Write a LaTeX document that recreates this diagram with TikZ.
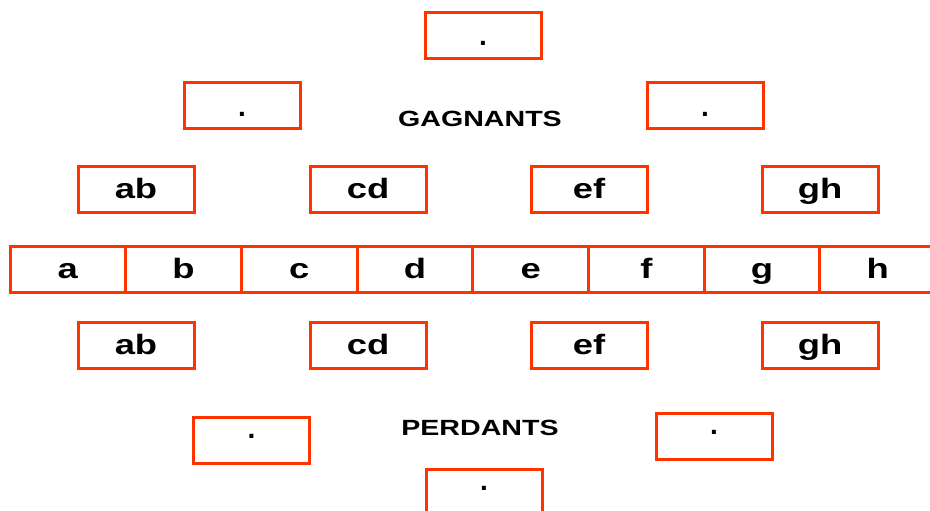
\documentclass[tikz,border=0pt]{standalone}
\usepackage{fontspec}
\usepackage{graphicx}
\setmainfont{Liberation Sans}
\definecolor{boxred}{RGB}{255,51,0}
\newcommand{\wide}[1]{\scalebox{1.3}[1]{#1}}
\tikzset{
  cell/.style={draw=boxred, line width=3pt, minimum width=116pt, minimum height=46pt,
    inner sep=0pt, text height=0pt, text depth=0pt,
    font=\fontsize{28}{30}\selectfont\bfseries},
  heading/.style={inner sep=0pt, anchor=base, font=\fontsize{22}{24}\selectfont\bfseries}
}
\begin{document}
\begin{tikzpicture}[x=1pt, y=-1pt]
\useasboundingbox (0,0) rectangle (930,511);

% winners' bracket
\node[cell] (w1) at (483,36) {\raisebox{-10pt}{.}};
\node[cell] (w2l) at (242,105.5) {\raisebox{-11pt}{.}};
\node[cell] (w2r) at (705,105.5) {\raisebox{-11pt}{.}};
\node[heading] (gagnants) at (480,126) {\wide{GAGNANTS}};
\node[cell] (wab) at (136,189) {\raisebox{-9.5pt}{\wide{ab}}};
\node[cell] (wcd) at (368,189) {\raisebox{-9.5pt}{\wide{cd}}};
\node[cell] (wef) at (589,189) {\raisebox{-9.5pt}{\wide{ef}}};
\node[cell] (wgh) at (820,189) {\raisebox{-9.5pt}{\wide{gh}}};

% the eight players
\foreach \l [count=\i from 0] in {a,b,c,d,e,f,g,h}
  \node[cell, minimum width=115.7pt] (p\l) at (10+57.85+\i*115.7,269.5) {\raisebox{-9pt}{\wide{\l}}};

% losers' bracket
\node[cell] (lab) at (136,345) {\raisebox{-9.5pt}{\wide{ab}}};
\node[cell] (lcd) at (368,345) {\raisebox{-9.5pt}{\wide{cd}}};
\node[cell] (lef) at (589,345) {\raisebox{-9.5pt}{\wide{ef}}};
\node[cell] (lgh) at (820,345) {\raisebox{-9.5pt}{\wide{gh}}};
\node[heading] (perdants) at (480,435) {\wide{PERDANTS}};
\node[cell] (l2l) at (251.5,440) {\raisebox{2pt}{.}};
\node[cell] (l2r) at (714,436) {\raisebox{1.5pt}{.}};
\node[cell] (l1) at (484,492) {\raisebox{1.5pt}{.}};
\end{tikzpicture}
\end{document}
